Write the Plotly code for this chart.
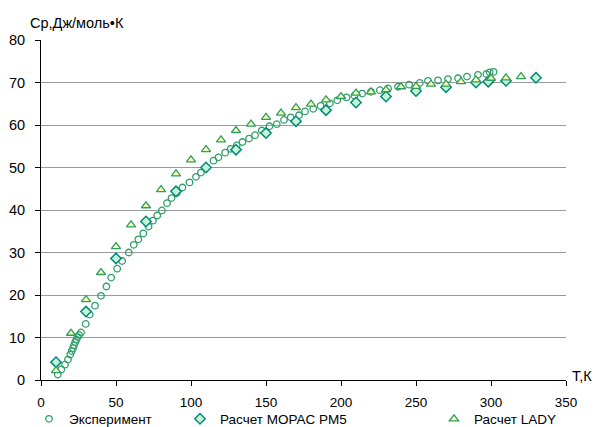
import plotly.graph_objects as go

# Experiment
exp_T = [11.2, 13.5, 16.0, 18.0, 19.5, 20.5, 21.3, 22.0, 22.8, 23.6, 24.5, 25.4, 26.7,
         29.8, 32.5, 36.0, 40.0, 43.6, 46.8, 50.8, 54.1, 58.5, 61.8, 64.9, 68.2, 71.7,
         74.6, 77.5, 80.6, 84.0, 87.0, 90.5, 94.3, 99.0, 103.3, 106.6, 110.1, 115.0,
         118.3, 122.8, 126.5, 130.5, 134.3, 138.7, 142.7, 147.2, 152.3, 157.2, 162.0,
         166.5, 172.0, 176.0, 181.5, 186.4, 192.6, 197.5, 203.7, 209.0, 214.1, 220.0,
         225.9, 231.4, 238.0, 245.4, 252.5, 258.0, 264.7, 271.3, 278.0, 284.0, 291.3,
         296.9, 299.1, 301.7]
exp_Cp = [1.3, 2.5, 3.6, 4.8, 6.0, 6.8, 7.5, 8.2, 8.9, 9.5, 10.1, 10.6, 11.2,
          13.2, 15.4, 17.5, 19.8, 22.0, 24.1, 26.2, 28.0, 30.0, 31.8, 33.1, 34.5, 36.1,
          37.5, 38.7, 39.9, 41.6, 42.8, 44.0, 45.3, 46.5, 47.8, 48.8, 50.0, 51.6,
          52.4, 53.5, 54.4, 55.2, 56.0, 56.8, 57.6, 58.7, 59.7, 60.2, 61.2,
          61.8, 62.3, 63.2, 63.8, 64.5, 65.1, 65.8, 66.5, 66.9, 67.4, 67.8,
          68.2, 68.6, 69.0, 69.5, 69.9, 70.4, 70.5, 70.8, 71.0, 71.4, 71.8,
          72.0, 72.4, 72.5]

# MOPAC PM5
pm5_T = [10, 30, 50, 70, 90, 110, 130, 150, 170, 190, 210, 230, 250, 270, 290, 298.15, 310, 330]
pm5_Cp = [4.2, 16.1, 28.6, 37.3, 44.4, 50.0, 54.2, 58.1, 60.9, 63.5, 65.3, 66.7, 68.0, 68.9,
          70.0, 70.2, 70.4, 71.1]

# LADY
lady_T = [10, 20, 30, 40, 50, 60, 70, 80, 90, 100, 110, 120, 130, 140, 150, 160, 170, 180,
          190, 200, 210, 220, 230, 240, 250, 260, 270, 280, 290, 300, 310, 320]
lady_Cp = [2.2, 11.0, 18.9, 25.3, 31.4, 36.5, 41.0, 44.8, 48.5, 51.8, 54.2, 56.5, 58.7,
           60.2, 61.8, 62.8, 64.1, 64.9, 65.9, 66.7, 67.5, 67.8, 68.3, 69.0, 69.1, 69.6,
           69.6, 70.2, 70.6, 71.0, 71.1, 71.4]

x_ticks = [0, 50, 100, 150, 200, 250, 300, 350]
y_ticks = [0, 10, 20, 30, 40, 50, 60, 70, 80]

FONT = "Liberation Sans, Arial, sans-serif"
FS = 14.5
TFS = 13.5
LFS = 13.5

L, R, T, B = 40.5, 566.0, 39.5, 380.5
W, H = 596, 427
PW, PH = R - L, B - T

fig = go.Figure()
fig.add_trace(go.Scatter(
    x=exp_T, y=exp_Cp, mode="markers", name="Эксперимент", legend="legend",
    marker=dict(symbol="circle-open", size=6.5, color="#2e9e66", line=dict(width=1.3)),
))
fig.add_trace(go.Scatter(
    x=pm5_T, y=pm5_Cp, mode="markers", name="Расчет MOPAC PM5", legend="legend2",
    marker=dict(symbol="diamond", size=8, color="#c6f5d2",
                line=dict(color="#008a80", width=1.5)),
))
fig.add_trace(go.Scatter(
    x=lady_T, y=lady_Cp, mode="markers", name="Расчет LADY", legend="legend3",
    marker=dict(symbol="triangle-up", size=8, color="#fafab4",
                line=dict(color="#2e9e66", width=1.3)),
))

leg_common = dict(orientation="h", yanchor="middle", xanchor="left",
                  xref="container", yref="container",
                  font=dict(family=FONT, size=LFS, color="#000"),
                  bgcolor="rgba(0,0,0,0)", itemwidth=30)
leg_y = (H - 419) / H

fig.update_layout(
    width=W, height=H,
    margin=dict(l=L, r=W - R, t=T, b=H - B, autoexpand=False),
    paper_bgcolor="white", plot_bgcolor="white",
    font=dict(family=FONT, size=FS, color="#000"),
    xaxis=dict(range=[0, 350], tickvals=x_ticks, showgrid=False, zeroline=False,
               showline=True, linecolor="#000", linewidth=1,
               ticks="outside", ticklen=5, tickcolor="#000",
               tickfont=dict(family=FONT, size=TFS), ticklabelstandoff=5),
    yaxis=dict(range=[0, 80], tickvals=y_ticks, showgrid=True, gridcolor="#999999",
               gridwidth=1, zeroline=False, showline=True, linecolor="#000", linewidth=1,
               ticks="outside", ticklen=5, tickcolor="#000",
               tickfont=dict(family=FONT, size=FS), ticklabelstandoff=7),
    showlegend=True,
    legend=dict(x=29 / W, y=leg_y, **leg_common),
    legend2=dict(x=180 / W, y=leg_y, **leg_common),
    legend3=dict(x=434 / W, y=leg_y, **leg_common),
    annotations=[
        dict(text="Ср,Дж/моль•К", xref="paper", yref="paper", x=(27 - L) / PW,
             y=1 + (T - 22) / PH, xanchor="left", yanchor="middle", showarrow=False,
             font=dict(family=FONT, size=FS)),
        dict(text="Т,К", xref="paper", yref="paper", x=(570 - L) / PW,
             y=(B - 376) / PH, xanchor="left", yanchor="middle", showarrow=False,
             font=dict(family=FONT, size=FS)),
    ],
)

fig.write_html(
    "out.html",
    config={"displayModeBar": False},
    post_script="document.body.style.margin='0';document.body.style.overflow='hidden';",
)
